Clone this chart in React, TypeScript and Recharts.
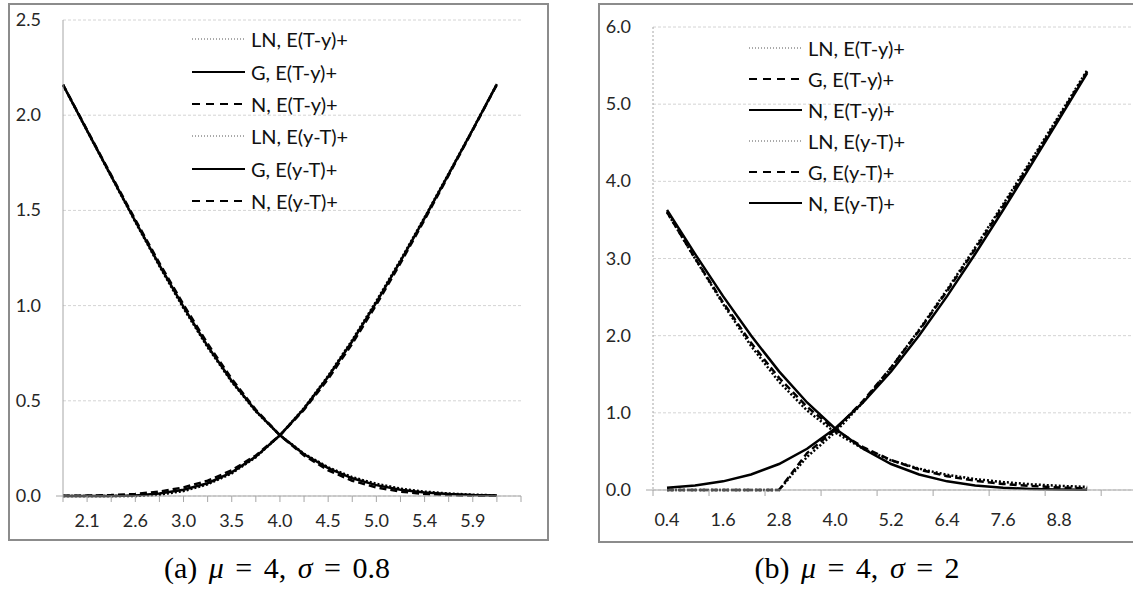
import React from 'react';
import { LineChart, Line, XAxis, YAxis, CartesianGrid, Legend } from 'recharts';

// ---- panel (a): mu = 4, sigma = 0.8 ----
const tA = [1.84, 2.08, 2.32, 2.56, 2.8, 3.04, 3.28, 3.52, 3.76, 4.0, 4.24, 4.48, 4.72, 4.96, 5.2, 5.44, 5.68, 5.92, 6.16];
const tEndA = 6.4;
const tickLabelsA = ['2.1', '2.6', '3.0', '3.5', '4.0', '4.5', '5.0', '5.4', '5.9'];
const yTicksA = [0, 0.5, 1.0, 1.5, 2.0, 2.5];

const lnUpA = [0.0, 0.0, 0.0, 0.0, 0.007, 0.026, 0.061, 0.119, 0.204, 0.319, 0.462, 0.631, 0.819, 1.024, 1.239, 1.463, 1.693, 1.926, 2.163];
const gUpA = [0.0, 0.0, 0.0, 0.003, 0.013, 0.033, 0.067, 0.124, 0.207, 0.319, 0.459, 0.626, 0.813, 1.017, 1.233, 1.459, 1.69, 1.925, 2.163];
const nUpA = [0.001, 0.002, 0.005, 0.011, 0.023, 0.045, 0.08, 0.135, 0.213, 0.319, 0.453, 0.615, 0.8, 1.005, 1.223, 1.451, 1.685, 1.922, 2.161];
const lnDnA = [2.159, 1.918, 1.678, 1.44, 1.207, 0.986, 0.781, 0.599, 0.444, 0.319, 0.222, 0.151, 0.099, 0.064, 0.039, 0.023, 0.013, 0.007, 0.003];
const gDnA = [2.16, 1.919, 1.68, 1.443, 1.213, 0.993, 0.787, 0.604, 0.447, 0.319, 0.219, 0.146, 0.093, 0.057, 0.033, 0.019, 0.01, 0.005, 0.003];
const nDnA = [2.161, 1.922, 1.685, 1.451, 1.223, 1.005, 0.8, 0.615, 0.453, 0.319, 0.213, 0.135, 0.08, 0.045, 0.023, 0.011, 0.005, 0.002, 0.001];

// ---- panel (b): mu = 4, sigma = 2 ----
const tB = [0.4, 1.0, 1.6, 2.2, 2.8, 3.4, 4.0, 4.6, 5.2, 5.8, 6.4, 7.0, 7.6, 8.2, 8.8, 9.4];
const tickMarksB = [0.1, 1.3, 2.5, 3.7, 4.9, 6.1, 7.3, 8.5, 9.7];
const tickLabelsB = ['0.4', '1.6', '2.8', '4.0', '5.2', '6.4', '7.6', '8.8'];
const yTicksB = [0, 1, 2, 3, 4, 5, 6];

const lnUpB = [0, 0, 0, 0, 0, 0.43, 0.747, 1.137, 1.585, 2.076, 2.597, 3.142, 3.703, 4.274, 4.854, 5.44];
const gUpB = [0, 0, 0, 0, 0, 0.478, 0.781, 1.155, 1.587, 2.065, 2.579, 3.12, 3.679, 4.252, 4.833, 5.421];
const nUpB = [0.029, 0.059, 0.112, 0.201, 0.337, 0.534, 0.798, 1.134, 1.537, 2.001, 2.512, 3.059, 3.629, 4.213, 4.805, 5.402];
const lnDnB = [3.6, 3.0, 2.412, 1.867, 1.402, 1.03, 0.747, 0.537, 0.385, 0.276, 0.197, 0.142, 0.103, 0.074, 0.054, 0.04];
const gDnB = [3.6, 3.004, 2.431, 1.907, 1.453, 1.078, 0.781, 0.555, 0.387, 0.265, 0.179, 0.12, 0.079, 0.052, 0.033, 0.021];
const nDnB = [3.629, 3.059, 2.512, 2.001, 1.537, 1.134, 0.798, 0.534, 0.337, 0.201, 0.112, 0.059, 0.029, 0.013, 0.005, 0.002];

const FONT = 'Lato, "Open Sans", sans-serif';
const AXIS = '#a6a6a6';
const TEXT = '#262626';
const TICK = 6;
const GAP = 4;

const DOT = '2 2';
const DASH = '7 4';

type Series = { key: string; name: string; dash?: string };

const seriesA: Series[] = [
  { key: 'lnUp', name: 'LN, E(T-y)+', dash: DOT },
  { key: 'gUp', name: 'G, E(T-y)+' },
  { key: 'nUp', name: 'N, E(T-y)+', dash: DASH },
  { key: 'lnDn', name: 'LN, E(y-T)+', dash: DOT },
  { key: 'gDn', name: 'G, E(y-T)+' },
  { key: 'nDn', name: 'N, E(y-T)+', dash: DASH },
];

const seriesB: Series[] = [
  { key: 'lnUp', name: 'LN, E(T-y)+', dash: DOT },
  { key: 'gUp', name: 'G, E(T-y)+', dash: DASH },
  { key: 'nUp', name: 'N, E(T-y)+' },
  { key: 'lnDn', name: 'LN, E(y-T)+', dash: DOT },
  { key: 'gDn', name: 'G, E(y-T)+', dash: DASH },
  { key: 'nDn', name: 'N, E(y-T)+' },
];

const dataA = tA.map((t, i) => ({
  t, lnUp: lnUpA[i], gUp: gUpA[i], nUp: nUpA[i], lnDn: lnDnA[i], gDn: gDnA[i], nDn: nDnA[i],
}));
const dataB = tB.map((t, i) => ({
  t, lnUp: lnUpB[i], gUp: gUpB[i], nUp: nUpB[i], lnDn: lnDnB[i], gDn: gDnB[i], nDn: nDnB[i],
}));

const same = (a: number, b: number) => Math.abs(a - b) < 1e-6;

// x tick: a tick mark and/or a label, both placed by the axis scale
const XTick = (props: any) => {
  const { x, y, payload, marks, labels, dy } = props;
  const v = payload.value;
  const mark = marks.some((m: number) => same(m, v));
  const li = labels.findIndex((l: { v: number }) => same(l.v, v));
  return (
    <g>
      {mark && <line x1={x} x2={x} y1={y - GAP - TICK} y2={y - GAP} stroke={AXIS} strokeWidth={1} />}
      {li >= 0 && (
        <text x={x} y={y + dy} textAnchor="middle" fontFamily={FONT} fontSize={18} fill={TEXT}>
          {labels[li].t}
        </text>
      )}
    </g>
  );
};

// y tick: label, plus the short stub at 0 where the category axis crosses
const YTick = (props: any) => {
  const { x, y, payload, margin } = props;
  const v = payload.value;
  return (
    <g>
      {v === 0 && <line x1={x + margin} x2={x + margin + 7} y1={y} y2={y} stroke={AXIS} strokeWidth={1} />}
      <text x={x} y={y + 6} textAnchor="end" fontFamily={FONT} fontSize={18} fill={TEXT}>
        {v.toFixed(1)}
      </text>
    </g>
  );
};

const LegendBox = ({ items, rowH }: { items: Series[]; rowH: number }) => (
  <div style={{ fontFamily: FONT, fontSize: 20, color: '#111' }}>
    {items.map((s) => (
      <div key={s.key + s.name} style={{ display: 'flex', alignItems: 'center', height: rowH }}>
        <svg width={53} height={8} style={{ display: 'block' }}>
          <line
            x1={0}
            x2={53}
            y1={4}
            y2={4}
            stroke={s.dash === DOT ? '#555' : '#000'}
            strokeWidth={s.dash === DOT ? 1 : 2}
            strokeDasharray={s.dash === DOT ? '1 2' : s.dash === DASH ? '8 6' : undefined}
          />
        </svg>
        <span style={{ marginLeft: 6, whiteSpace: 'nowrap' }}>{s.name}</span>
      </div>
    ))}
  </div>
);

const Caption = ({ left, width, children }: { left: number; width: number; children: React.ReactNode }) => (
  <div
    style={{
      position: 'absolute', left, top: 551, width, textAlign: 'center',
      fontFamily: '"Liberation Serif", "DejaVu Serif", serif', fontSize: 30, lineHeight: '34px',
      wordSpacing: 4, color: '#000',
    }}
  >
    {children}
  </div>
);

const frame: React.CSSProperties = {
  position: 'absolute', border: '2px solid #8c8c8c', boxSizing: 'border-box', background: '#fff',
};

export default function App() {
  const labelsA = tickLabelsA.map((t, i) => ({ t, v: tA[2 * i + 1] }));
  const labelsB = tickLabelsB.map((t, i) => ({ t, v: tB[2 * i] }));
  const ticksA = [...tA, tEndA];
  const ticksB = [...tickMarksB, ...labelsB.map((l) => l.v)].sort((a, b) => a - b);

  return (
    <div style={{ position: 'fixed', left: 0, top: 0, width: 1133, height: 595, overflow: 'hidden', background: '#fff' }}>
      {/* (a) */}
      <div style={{ ...frame, left: 8, top: 3, width: 541, height: 538 }} />
      <div style={{ position: 'absolute', left: 8, top: 3 }}>
        <LineChart width={541} height={538} data={dataA} margin={{ top: 17, right: 28, left: 10, bottom: 15 }}>
          <CartesianGrid vertical={false} stroke="#d4d4d4" strokeDasharray="3 2" />
          <XAxis
            dataKey="t"
            type="number"
            domain={[tA[0], tEndA]}
            ticks={ticksA}
            interval={0}
            height={30}
            tickSize={TICK}
            tickMargin={GAP}
            tickLine={false}
            axisLine={{ stroke: AXIS }}
            tick={(p: any) => <XTick {...p} marks={ticksA} labels={labelsA} dy={21} />}
          />
          <YAxis
            type="number"
            domain={[0, 2.5]}
            ticks={yTicksA}
            width={45}
            tickLine={false}
            tickSize={7}
            tickMargin={15}
            axisLine={{ stroke: AXIS }}
            tick={(p: any) => <YTick {...p} margin={15} />}
          />
          <Legend
            layout="vertical"
            align="center"
            verticalAlign="middle"
            wrapperStyle={{ left: 184, top: 20, width: 'auto' }}
            content={() => <LegendBox items={seriesA} rowH={32.4} />}
          />
          {seriesA.map((s) => (
            <Line
              key={s.key}
              dataKey={s.key}
              name={s.name}
              type="linear"
              stroke="#000"
              strokeWidth={2.5}
              strokeDasharray={s.dash}
              dot={false}
              isAnimationActive={false}
            />
          ))}
        </LineChart>
      </div>
      <Caption left={0} width={554}>
        (a) <i>μ</i> = 4, <i>σ</i> = 0.8
      </Caption>

      {/* (b) */}
      <div style={{ ...frame, left: 598, top: 3, width: 580, height: 540 }} />
      <div style={{ position: 'absolute', left: 598, top: 3 }}>
        <LineChart width={562} height={540} data={dataB} margin={{ top: 24, right: 0, left: 8, bottom: 15 }}>
          <CartesianGrid vertical={false} stroke="#d4d4d4" strokeDasharray="3 2" />
          <XAxis
            dataKey="t"
            type="number"
            domain={[tickMarksB[0], 10.96]}
            ticks={ticksB}
            interval={0}
            height={38}
            tickSize={TICK}
            tickMargin={GAP}
            tickLine={false}
            axisLine={{ stroke: AXIS }}
            tick={(p: any) => <XTick {...p} marks={tickMarksB} labels={labelsB} dy={26} />}
          />
          <YAxis
            type="number"
            domain={[0, 6]}
            ticks={yTicksB}
            width={47}
            tickLine={false}
            tickSize={7}
            tickMargin={15}
            axisLine={{ stroke: AXIS, strokeDasharray: '2 2' }}
            tick={(p: any) => <YTick {...p} margin={15} />}
          />
          <Legend
            layout="vertical"
            align="center"
            verticalAlign="middle"
            wrapperStyle={{ left: 151, top: 29, width: 'auto' }}
            content={() => <LegendBox items={seriesB} rowH={31.1} />}
          />
          {seriesB.map((s) => (
            <Line
              key={s.key}
              dataKey={s.key}
              name={s.name}
              type="linear"
              stroke="#000"
              strokeWidth={2.5}
              strokeDasharray={s.dash}
              dot={false}
              isAnimationActive={false}
            />
          ))}
        </LineChart>
      </div>
      <Caption left={598} width={518}>
        (b) <i>μ</i> = 4, <i>σ</i> = 2
      </Caption>
    </div>
  );
}
